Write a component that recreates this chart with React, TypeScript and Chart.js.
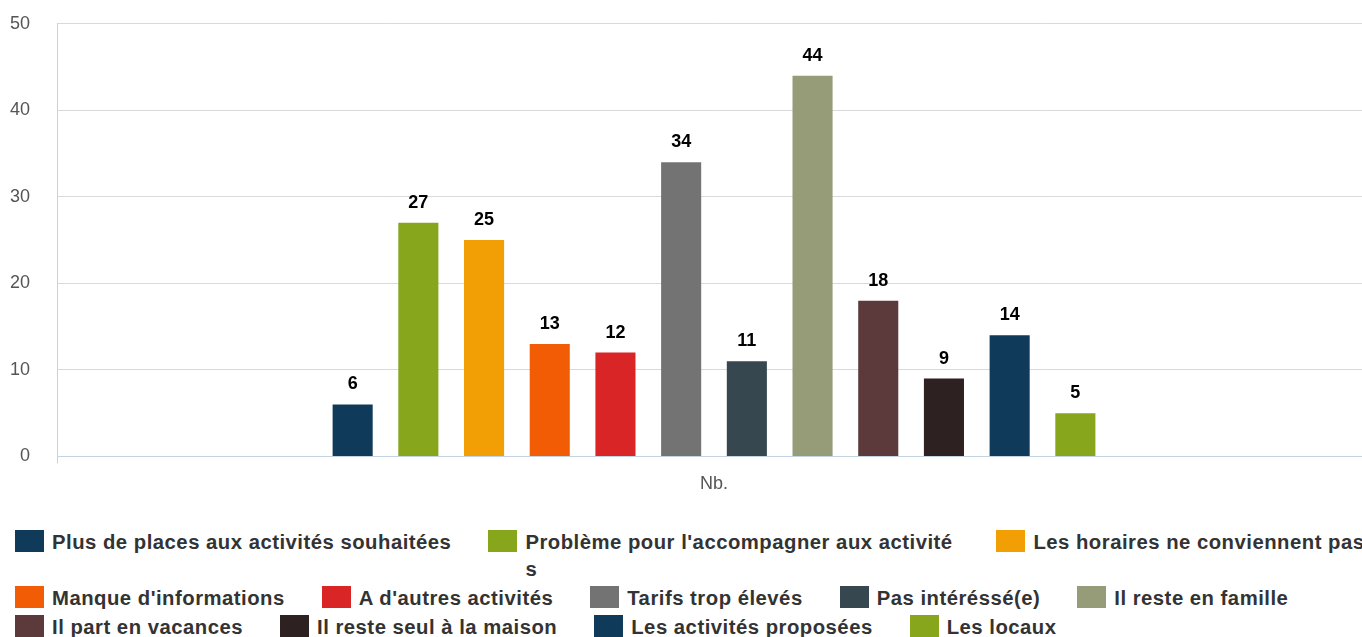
import React, { useEffect, useRef } from "react";
import { Chart, registerables } from "chart.js";

Chart.register(...registerables);

const categories = ["Nb."];
const seriesLabels = [
  "Plus de places aux activités souhaitées",
  "Problème pour l'accompagner aux activités",
  "Les horaires ne conviennent pas",
  "Manque d'informations",
  "A d'autres activités",
  "Tarifs trop élevés",
  "Pas intéréssé(e)",
  "Il reste en famille",
  "Il part en vacances",
  "Il reste seul à la maison",
  "Les activités proposées",
  "Les locaux",
];
const seriesValues = [6, 27, 25, 13, 12, 34, 11, 44, 18, 9, 14, 5];
const seriesColors = [
  "#103a5a",
  "#87a61c",
  "#f29f05",
  "#f25c05",
  "#d92525",
  "#737373",
  "#37474f",
  "#959c77",
  "#5c3a3b",
  "#2e2121",
  "#103a5a",
  "#87a61c",
];
const yTicks = [0, 10, 20, 30, 40, 50];
const legendRows = [
  [0, 1, 2],
  [3, 4, 5, 6, 7],
  [8, 9, 10, 11],
];

const FONT = "'Liberation Sans', Arial, Helvetica, sans-serif";

const valueLabels = {
  id: "valueLabels",
  afterDatasetsDraw(chart: any) {
    const ctx = chart.ctx;
    ctx.save();
    ctx.font = `bold 18px ${FONT}`;
    ctx.fillStyle = "#000";
    ctx.textAlign = "center";
    ctx.textBaseline = "alphabetic";
    chart.data.datasets.forEach((ds: any, i: number) => {
      const meta = chart.getDatasetMeta(i);
      meta.data.forEach((el: any, j: number) => {
        ctx.fillText(String(ds.data[j]), el.x, el.y - 15);
      });
    });
    ctx.restore();
  },
};

export default function App() {
  const ref = useRef<HTMLCanvasElement | null>(null);

  useEffect(() => {
    document.body.style.margin = "0";
    document.body.style.overflow = "hidden";
    if (!ref.current) return;
    const chart = new Chart(ref.current, {
      type: "bar",
      data: {
        labels: categories,
        datasets: seriesLabels.map((label, i) => ({
          label,
          data: [seriesValues[i]],
          backgroundColor: seriesColors[i],
          borderWidth: 0,
          categoryPercentage: 0.6,
          barPercentage: 0.61,
        })),
      },
      options: {
        animation: false,
        responsive: false,
        maintainAspectRatio: false,
        layout: { padding: { top: 8, left: 0, right: 0, bottom: 6 } },
        plugins: {
          legend: { display: false },
          tooltip: { enabled: false },
        },
        scales: {
          x: {
            grid: {
              display: true,
              drawOnChartArea: false,
              drawTicks: true,
              tickLength: 7,
              color: "#c5d3e0",
            },
            border: { display: true, color: "#c5d3e0", width: 1 },
            ticks: {
              color: "#555",
              font: { family: FONT, size: 18 },
              padding: 10,
            },
          },
          y: {
            min: 0,
            max: 50,
            afterBuildTicks: (scale: any) => {
              scale.ticks = yTicks.map((v) => ({ value: v }));
            },
            afterFit: (scale: any) => {
              scale.width = 57;
            },
            grid: { color: "#d9d9d9", drawTicks: false },
            border: { display: true, color: "#c5d3e0", width: 1 },
            ticks: {
              color: "#555",
              font: { family: FONT, size: 18 },
              padding: 27,
            },
          },
        },
      },
      plugins: [valueLabels],
    });
    return () => chart.destroy();
  }, []);

  const rowTops = [529, 585, 614];

  return (
    <div
      style={{
        position: "relative",
        width: 1362,
        height: 637,
        overflow: "hidden",
        background: "#fff",
      }}
    >
      <canvas
        ref={ref}
        width={1371}
        height={525}
        style={{ position: "absolute", left: 0, top: -14, width: 1371, height: 525 }}
      />
      {legendRows.map((row, r) => (
        <div
          key={r}
          style={{
            position: "absolute",
            left: 15,
            top: rowTops[r],
            display: "flex",
            alignItems: "flex-start",
            whiteSpace: "nowrap",
            fontFamily: FONT,
            fontWeight: "bold",
            fontSize: 20.3,
            letterSpacing: "0.5px",
            lineHeight: "27px",
            color: "#333",
          }}
        >
          {row.map((idx) => (
            <div
              key={idx}
              style={{
                display: "flex",
                alignItems: "flex-start",
                flexShrink: 0,
                marginRight: 37,
              }}
            >
              <span
                style={{
                  display: "inline-block",
                  width: 29,
                  height: 22,
                  marginTop: 1,
                  marginRight: 8,
                  background: seriesColors[idx],
                  flexShrink: 0,
                }}
              />
              <span
                style={
                  idx === 1
                    ? { display: "inline-block", maxWidth: 434, whiteSpace: "normal", wordBreak: "break-all" }
                    : { display: "inline-block" }
                }
              >
                {seriesLabels[idx]}
              </span>
            </div>
          ))}
        </div>
      ))}
    </div>
  );
}
